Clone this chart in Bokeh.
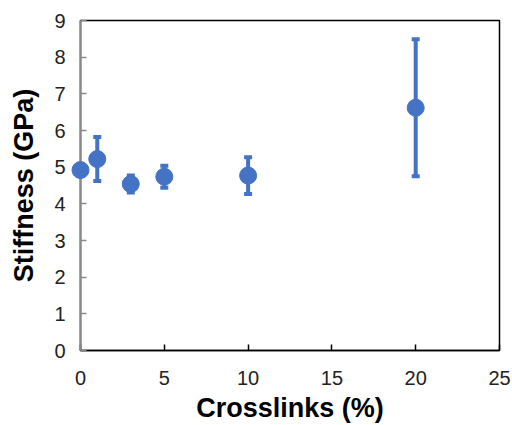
from bokeh.plotting import figure
from bokeh.models import ColumnDataSource, Whisker, TeeHead, FixedTicker, Range1d
from bokeh.embed import file_html
from bokeh.resources import INLINE

crosslinks = [0, 1, 3, 5, 10, 20]
stiffness = [4.92, 5.22, 4.54, 4.74, 4.77, 6.62]
stiffness_err = [0.0, 0.6, 0.23, 0.3, 0.5, 1.87]
x_ticks = [0, 5, 10, 15, 20, 25]
y_ticks = [0, 1, 2, 3, 4, 5, 6, 7, 8, 9]

blue = "#4472C4"
font = "Liberation Sans"

src = ColumnDataSource(dict(
    x=crosslinks,
    y=stiffness,
    lower=[v - e for v, e in zip(stiffness, stiffness_err)],
    upper=[v + e for v, e in zip(stiffness, stiffness_err)],
))

p = figure(width=512, height=425, output_backend="svg", toolbar_location=None,
           x_range=Range1d(0, 25), y_range=Range1d(0, 9),
           min_border_left=80, min_border_right=13, min_border_top=20, min_border_bottom=73)
p.background_fill_color = "white"
p.border_fill_color = "white"
p.grid.visible = False
p.outline_line_color = "black"
p.outline_line_width = 1.5

w = Whisker(source=src, base="x", lower="lower", upper="upper", dimension="height",
            line_color=blue, line_width=4,
            upper_head=TeeHead(size=8, line_color=blue, line_width=4),
            lower_head=TeeHead(size=8, line_color=blue, line_width=4))
p.add_layout(w)
r = p.scatter("x", "y", source=src, size=17, color=blue)
r.level = "overlay"

p.xaxis.ticker = FixedTicker(ticks=x_ticks)
p.yaxis.ticker = FixedTicker(ticks=y_ticks)
for ax in (p.xaxis[0], p.yaxis[0]):
    ax.minor_tick_line_color = None
    ax.major_tick_in = 6
    ax.major_tick_out = 0
    ax.major_label_text_font = font
    ax.major_label_text_font_size = "20px"
    ax.major_label_text_color = "#222222"
    ax.axis_label_text_font = font
    ax.axis_label_text_font_size = "27px"
    ax.axis_label_text_font_style = "bold"
    ax.axis_label_text_color = "black"

p.xaxis.axis_label = "Crosslinks (%)"
p.yaxis.axis_label = "Stiffness (GPa)"
p.xaxis.axis_line_color = "black"
p.xaxis.axis_line_width = 1.5
p.xaxis.major_tick_line_color = "black"
p.xaxis.major_tick_line_width = 1.5
p.yaxis.axis_line_color = "#8a8a8a"
p.yaxis.axis_line_width = 2
p.yaxis.major_tick_line_color = "#8a8a8a"
p.yaxis.major_tick_line_width = 1.5
p.xaxis.major_label_standoff = 20
p.yaxis.major_label_standoff = 15
p.xaxis.axis_label_standoff = 5
p.yaxis.axis_label_standoff = 12

open("out.html", "w").write(file_html(p, INLINE))
